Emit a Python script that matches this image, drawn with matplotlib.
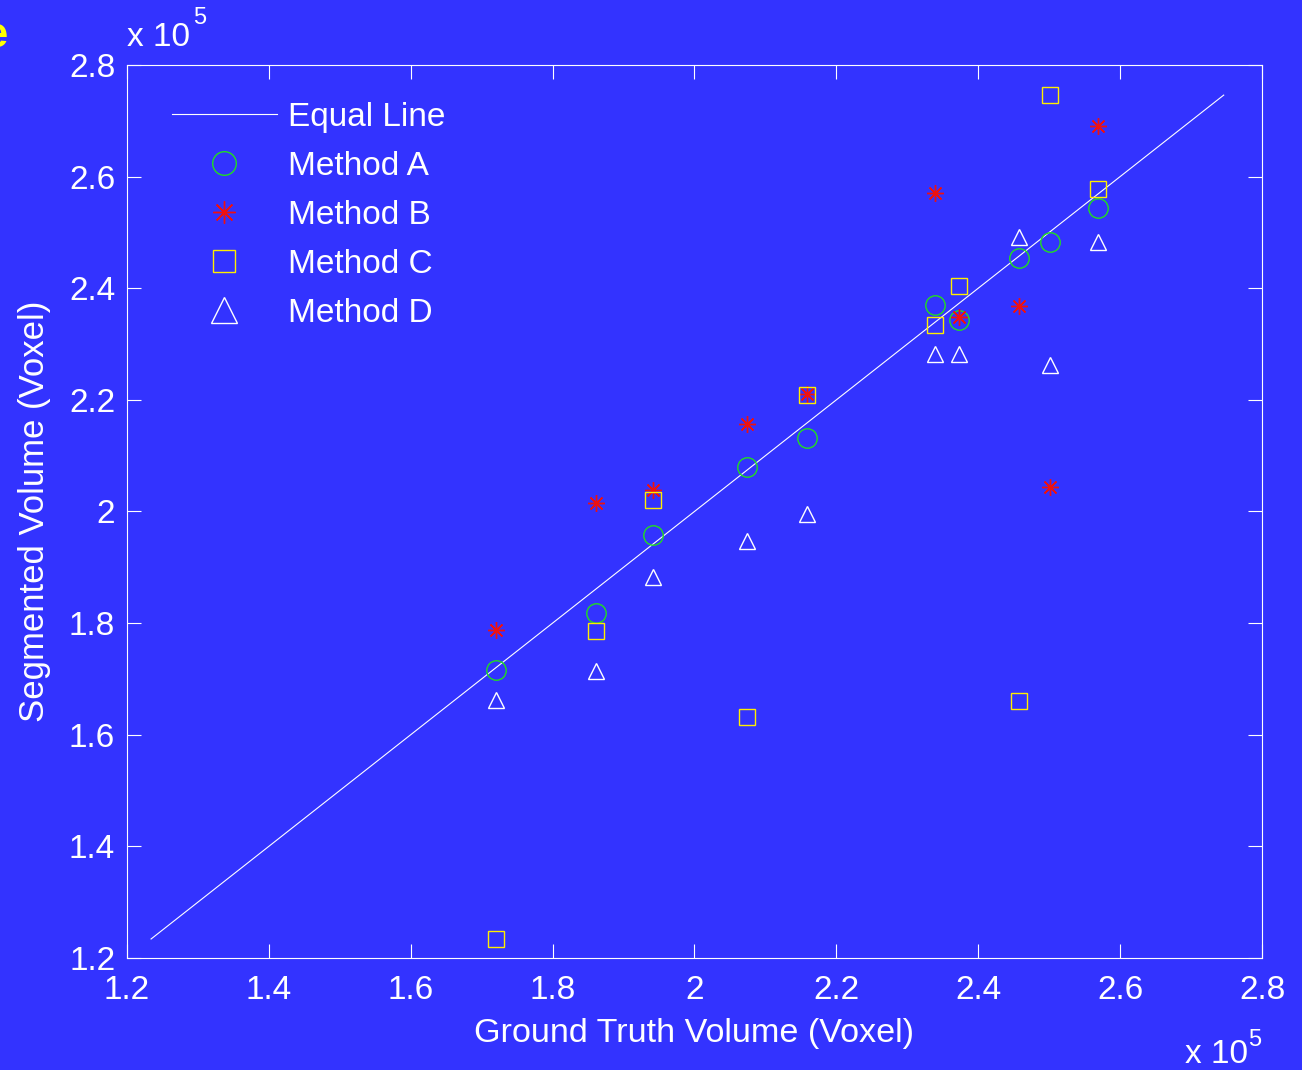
import matplotlib
matplotlib.use("Agg")
import matplotlib.pyplot as plt
from matplotlib.ticker import FuncFormatter

# values in units of 1e5 voxels
ground_truth = [1.720, 1.861, 1.941, 2.074, 2.159, 2.339, 2.373, 2.457, 2.501, 2.569]
method_a = [1.716, 1.818, 1.958, 2.080, 2.132, 2.370, 2.343, 2.454, 2.483, 2.544]
method_b = [1.787, 2.015, 2.038, 2.157, 2.210, 2.571, 2.348, 2.368, 2.044, 2.691]
method_c = [1.234, 1.786, 2.020, 1.632, 2.209, 2.334, 2.404, 1.660, 2.746, 2.578]
method_d = [1.662, 1.714, 1.882, 1.947, 1.995, 2.282, 2.282, 2.492, 2.262, 2.483]
ticks = [1.2, 1.4, 1.6, 1.8, 2.0, 2.2, 2.4, 2.6, 2.8]

bg = "#3333ff"
plt.rcParams["font.family"] = ["Liberation Sans", "DejaVu Sans"]

fig = plt.figure(figsize=(13.02, 10.70), dpi=100, facecolor=bg)
ax = fig.add_axes([0.0975, 0.1047, 0.8718, 0.8346], facecolor=bg)

allv = method_a + method_b + method_c + method_d
lo, hi = min(allv), max(allv)
ax.plot([lo, hi], [lo, hi], color="white", lw=0.8, label="Equal Line")
ax.plot(ground_truth, method_a, ls="none", marker="o", ms=14, mfc="none",
        mec="#22dd22", mew=1.0, label="Method A")
ax.plot(ground_truth, method_b, ls="none", marker=(8, 2, 0), ms=12,
        mec="#ee1111", mew=1.0, label="Method B")
ax.plot(ground_truth, method_c, ls="none", marker="s", ms=11, mfc="none",
        mec="#ffee00", mew=1.0, label="Method C")
ax.plot(ground_truth, method_d, ls="none", marker="^", ms=11.5, mfc="none",
        mec="white", mew=1.0, label="Method D")

ax.set_xlim(1.2, 2.8)
ax.set_ylim(1.2, 2.8)
ax.set_xticks(ticks)
ax.set_yticks(ticks)
fmt = FuncFormatter(lambda v, p: "%g" % round(v, 2))
ax.xaxis.set_major_formatter(fmt)
ax.yaxis.set_major_formatter(fmt)
ax.tick_params(direction="in", length=10, width=0.8, colors="white",
               labelsize=24, top=True, right=True)
ax.tick_params(axis="x", pad=12)
ax.tick_params(axis="y", pad=8.5)
for s in ax.spines.values():
    s.set_color("white")
    s.set_linewidth(0.8)

ax.set_xlabel("Ground Truth Volume (Voxel)", fontsize=24.6, color="white", labelpad=9)
ax.set_ylabel("Segmented Volume (Voxel)", fontsize=25, color="white", labelpad=13)

# exponent labels
ax.text(0.0, 1.013, "x 10", transform=ax.transAxes, fontsize=24, color="white",
        ha="left", va="bottom")
ax.text(0.058, 1.040, "5", transform=ax.transAxes, fontsize=17, color="white",
        ha="left", va="bottom")
ax.text(0.932, -0.091, "x 10", transform=ax.transAxes, fontsize=24, color="white",
        ha="left", va="top")
ax.text(0.988, -0.079, "5", transform=ax.transAxes, fontsize=17, color="white",
        ha="left", va="top")

# cropped panel letter
fig.text(-0.012, 0.966, "e", fontsize=30, fontweight="bold", color="yellow",
         ha="left", va="center")

leg = ax.legend(loc="upper left", bbox_to_anchor=(0.0396, 0.959), frameon=False,
                fontsize=24, handlelength=3.15, handletextpad=0.33,
                labelspacing=0.54, borderaxespad=0, borderpad=0,
                labelcolor="white")
for h, size in zip(leg.legend_handles[1:], [17, 16, 16, 19]):
    h.set_markersize(size)

fig.savefig("out.png", dpi=100, facecolor=bg)
